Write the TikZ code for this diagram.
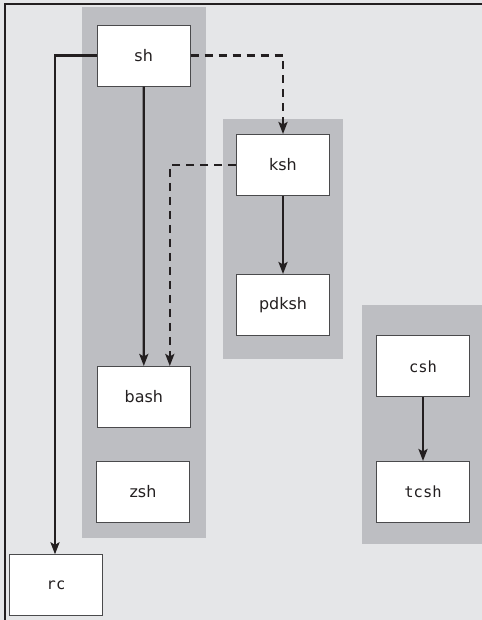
\documentclass[tikz,border=0pt]{standalone}
\usepackage{fontspec}
\setmainfont{DejaVu Sans}
\newfontfamily\monof{DejaVu Sans Mono}
\usetikzlibrary{arrows.meta}
\definecolor{bgc}{HTML}{E5E6E8}
\definecolor{grpc}{HTML}{BDBEC2}
\definecolor{inkc}{HTML}{231F20}
\definecolor{boxline}{HTML}{4A4A4C}
\tikzset{
  shellbox/.style={draw=boxline, line width=1bp, fill=white, minimum width=93bp, minimum height=61bp, inner sep=0pt, font=\fontsize{16}{18}\selectfont, text=inkc},
  monobox/.style={shellbox, font=\monof\fontsize{15.5}{18}\selectfont},
  grp/.style={fill=grpc, draw=none},
  solidarrow/.style={draw=inkc, line width=2.4bp, -{Stealth[length=12bp, width=9bp, inset=2.5bp]}},
  dasharrow/.style={solidarrow, dash pattern=on 8bp off 6bp},
}
\begin{document}
\begin{tikzpicture}[x=1bp, y=-1bp]
\useasboundingbox (0,0) rectangle (482,620);
\fill[bgc] (0,0) rectangle (482,620);
\draw[inkc, line width=1.6bp] (5,620) -- (5,4) -- (482,4);
% groups
\fill[grp] (82,7) rectangle (206,537.5);
\fill[grp] (223,119) rectangle (343,358.5);
\fill[grp] (362,305) rectangle (482,544);
% nodes
\node[shellbox] (sh) at (143.7,55.7) {sh};
\node[shellbox] (ksh) at (283,165) {ksh};
\node[shellbox] (pdksh) at (283,305) {pdksh};
\node[shellbox] (bash) at (143.8,397) {bash};
\node[shellbox] (zsh) at (143,491.7) {zsh};
\node[monobox] (rc) at (56,585.3) {rc};
\node[monobox] (csh) at (423,366.3) {csh};
\node[monobox] (tcsh) at (423,492) {tcsh};
% connectors
\draw[solidarrow] (sh.west) -| (rc.north -| 55,0);
\draw[solidarrow] (sh.south) -- (bash.north);
\draw[dasharrow] (sh.east) -| (ksh.north);
\draw[dasharrow] (ksh.west) -| ([xshift=26bp]bash.north);
\draw[solidarrow] (ksh.south) -- (pdksh.north);
\draw[solidarrow] (csh.south) -- (tcsh.north);
\end{tikzpicture}
\end{document}
